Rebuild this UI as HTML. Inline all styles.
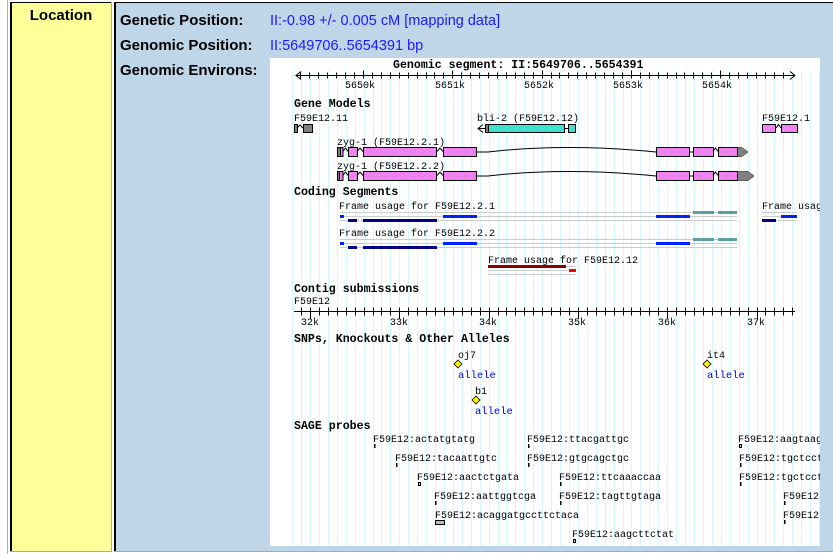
<!DOCTYPE html>
<html><head><meta charset="utf-8">
<style>
html,body{margin:0;padding:0;width:833px;height:554px;overflow:hidden;background:#fff;}
svg{position:absolute;left:0;top:0;}
.m{font-family:"Liberation Mono","DejaVu Sans Mono",monospace;font-size:10px;fill:#000;}
.h{font-family:"Liberation Mono","DejaVu Sans Mono",monospace;font-size:11.6px;font-weight:bold;fill:#000;}
.s{font-family:"Liberation Sans",Arial,sans-serif;font-size:15px;font-weight:bold;fill:#000;}
.v{font-family:"Liberation Sans",Arial,sans-serif;font-size:14.5px;fill:#1a1aff;}
.a{font-family:"Liberation Mono","DejaVu Sans Mono",monospace;font-size:10.5px;fill:#0000ee;}
</style></head><body>
<svg id="s" width="833" height="554" xmlns="http://www.w3.org/2000/svg">
<defs><clipPath id="cp"><rect x="270" y="58" width="550" height="488"/></clipPath></defs>
<rect x="0" y="0" width="833" height="554" fill="#fff"/>
<rect x="7" y="0" width="1" height="554" fill="#b0b0b0"/>
<rect x="10" y="2" width="102" height="550" fill="#ffff99"/>
<rect x="10" y="2" width="2" height="550" fill="#000"/>
<rect x="10" y="2" width="102" height="1" fill="#000"/>
<rect x="111" y="2" width="1" height="550" fill="#aaa"/>
<rect x="10" y="551" width="102" height="1" fill="#aaa"/>
<rect x="114" y="2" width="719" height="550" fill="#bfd5e8"/>
<rect x="114" y="2" width="2" height="550" fill="#000"/>
<rect x="114" y="2" width="719" height="1" fill="#000"/>
<rect x="114" y="551" width="719" height="1" fill="#aaa"/>
<text class="s" x="61" y="20" text-anchor="middle">Location</text>
<text class="s" x="120" y="25">Genetic Position:</text>
<text class="s" x="120" y="50">Genomic Position:</text>
<text class="s" x="120" y="75">Genomic Environs:</text>
<text class="v" x="270" y="25">II:-0.98 +/- 0.005 cM [mapping data]</text>
<text class="v" x="270" y="50">II:5649706..5654391 bp</text>
<rect x="270" y="58" width="550" height="488" fill="#fff"/>
<g clip-path="url(#cp)">
<g id="grid"></g>
<text class="h" x="393" y="68">Genomic segment: II:5649706..5654391</text>
<line x1="296" y1="75.5" x2="795" y2="75.5" stroke="#000"/>
<polyline points="301,71.5 296,75.5 301,79.5" fill="none" stroke="#000"/>
<polyline points="790,71.5 795,75.5 790,79.5" fill="none" stroke="#000"/>
<g id="t1"></g>
<text class="m" x="360" y="88" text-anchor="middle">5650k</text>
<text class="m" x="450" y="88" text-anchor="middle">5651k</text>
<text class="m" x="539" y="88" text-anchor="middle">5652k</text>
<text class="m" x="628" y="88" text-anchor="middle">5653k</text>
<text class="m" x="717" y="88" text-anchor="middle">5654k</text>

<text class="h" x="294" y="107">Gene Models</text>
<text class="m" x="294" y="121">F59E12.11</text>
<text class="m" x="477" y="121">bli-2 (F59E12.12)</text>
<text class="m" x="762" y="121">F59E12.1</text>
<g stroke="#000" stroke-width="1">
<rect x="294.5" y="124.5" width="3" height="8" fill="#808080"/>
<polyline points="297,128 300,125 303,128" fill="none"/>
<rect x="303.5" y="124.5" width="9" height="8" fill="#808080"/>
<polyline points="483,124.5 478,128.5 483,132.5" fill="none"/>
<line x1="478" y1="128.5" x2="485" y2="128.5"/>
<rect x="485.5" y="124.5" width="3" height="8" fill="#808080"/>
<rect x="488.5" y="124.5" width="76" height="8" fill="#40e0d0"/>
<rect x="568.5" y="124.5" width="7" height="8" fill="#40e0d0"/>
<line x1="565" y1="128.5" x2="568" y2="128.5"/>
<rect x="762.5" y="124.5" width="13" height="8" fill="#ee82ee"/>
<polyline points="776,128 778.5,124.5 781,128" fill="none"/>
<rect x="781.5" y="124.5" width="16" height="8" fill="#ee82ee"/>
</g>
<text class="m" x="337" y="145">zyg-1 (F59E12.2.1)</text>
<text class="m" x="337" y="169">zyg-1 (F59E12.2.2)</text>
<g id="zyg" stroke="#000" stroke-width="1"></g>

<text class="h" x="294" y="195">Coding Segments</text>
<g id="cds"></g>
<text class="m" x="339" y="209">Frame usage for F59E12.2.1</text>
<text class="m" x="339" y="236">Frame usage for F59E12.2.2</text>
<text class="m" x="762" y="209">Frame usage for</text>
<text class="m" x="488" y="263">Frame usage for F59E12.12</text>

<text class="h" x="294" y="292">Contig submissions</text>
<text class="m" x="294" y="304">F59E12</text>
<line x1="294" y1="311.5" x2="795" y2="311.5" stroke="#000"/>
<g id="t2"></g>
<text class="m" x="310" y="325" text-anchor="middle">32k</text>
<text class="m" x="399" y="325" text-anchor="middle">33k</text>
<text class="m" x="488" y="325" text-anchor="middle">34k</text>
<text class="m" x="577" y="325" text-anchor="middle">35k</text>
<text class="m" x="667" y="325" text-anchor="middle">36k</text>
<text class="m" x="756" y="325" text-anchor="middle">37k</text>

<text class="h" x="294" y="342">SNPs, Knockouts &amp; Other Alleles</text>
<text class="m" x="458" y="358">oj7</text>
<polygon points="458,360 462,364 458,368 454,364" fill="#ffee00" stroke="#000" stroke-width="0.8"/>
<text class="a" x="458" y="378">allele</text>
<text class="m" x="475" y="394">b1</text>
<polygon points="476,396 480,400 476,404 472,400" fill="#ffee00" stroke="#000" stroke-width="0.8"/>
<text class="a" x="475" y="414">allele</text>
<text class="m" x="707" y="358">it4</text>
<polygon points="707,360 711,364 707,368 703,364" fill="#ffee00" stroke="#000" stroke-width="0.8"/>
<text class="a" x="707" y="378">allele</text>

<text class="h" x="294" y="429">SAGE probes</text>
<g id="sage"></g>
</g>
</svg>
<script>
var NS="http://www.w3.org/2000/svg";
function el(p,t,a){var e=document.createElementNS(NS,t);for(var k in a)e.setAttribute(k,a[k]);document.getElementById(p).appendChild(e);return e;}
for(var n=-2;n<58;n++){var x=Math.round(310+n*8.93)+0.5;if(x>820)break;el("grid","line",{x1:x,y1:70,x2:x,y2:546,stroke:"#d4f7f7","stroke-width":1});}
for(var n=-7;n<48;n++){var x=363+n*8.93;if(x<298||x>792)continue;var xx=Math.round(x)+0.5;var maj=(n%10===0);el("t1","line",{x1:xx,y1:maj?70.5:72.5,x2:xx,y2:78.5,stroke:"#000"});}
for(var n=-1;n<55;n++){var x=310+n*8.93;if(x<296||x>794)continue;var xx=Math.round(x)+0.5;var maj=(n%10===0);el("t2","line",{x1:xx,y1:307.5,x2:xx,y2:maj?318.5:315.5,stroke:"#000"});}
function tr(y,arrowEnd,g1){
 var b=y+0.5,h=9,m=y+4.5;
 el("zyg","rect",{x:337.5,y:b,width:g1,height:h,fill:"#808080"});
 el("zyg","rect",{x:337.5+g1,y:b,width:5-g1+0.5,height:h,fill:"#ee82ee"});
 el("zyg","polyline",{points:"343,"+m+" 345.5,"+(y+1)+" 348,"+m,fill:"none"});
 el("zyg","rect",{x:348.5,y:b,width:9,height:h,fill:"#ee82ee"});
 el("zyg","polyline",{points:"357,"+m+" 360,"+(y+1)+" 363,"+m,fill:"none"});
 el("zyg","rect",{x:363.5,y:b,width:73,height:h,fill:"#ee82ee"});
 el("zyg","polyline",{points:"437,"+m+" 440,"+(y+1)+" 443,"+m,fill:"none"});
 el("zyg","rect",{x:443.5,y:b,width:33,height:h,fill:"#ee82ee"});
 el("zyg","path",{d:"M477,"+(m+0.5)+" L488,"+(m+0.5)+" Q566,"+(y-4)+" 656,"+(m+0.5),fill:"none"});
 el("zyg","rect",{x:656.5,y:b,width:33,height:h,fill:"#ee82ee"});
 el("zyg","line",{x1:689.5,y1:m+0.5,x2:693,y2:m+0.5});
 el("zyg","rect",{x:693.5,y:b,width:20,height:h,fill:"#ee82ee"});
 el("zyg","polyline",{points:"713,"+m+" 715.5,"+(y+1)+" 718,"+m,fill:"none"});
 el("zyg","rect",{x:718.5,y:b,width:19,height:h,fill:"#ee82ee"});
 el("zyg","polygon",{points:"737.5,"+b+" "+(arrowEnd-6)+","+b+" "+arrowEnd+","+(m+0.5)+" "+(arrowEnd-6)+","+(b+h)+" 737.5,"+(b+h),fill:"#808080","stroke-width":0.5});
}
tr(147,748,3);tr(171,754,2);
function R(x1,x2,y,h,c){el("cds","rect",{x:x1,y:y,width:x2-x1,height:h,fill:c});}
function frame(y0){
 [0,4,8].forEach(function(d){R(340,737,y0+d,1,"#cccccc");});
 R(693,714,y0-1,3,"#5f9ea0");R(718,737,y0-1,3,"#5f9ea0");
 R(340,344,y0+3,3,"#0022ff");R(443,477,y0+3,3,"#0022ff");R(656,690,y0+3,3,"#0022ff");
 R(348,357,y0+7,3,"#00008b");R(363,437,y0+7,3,"#00008b");
}
frame(212);frame(239);
[212,216,220].forEach(function(y){R(762,797,y,1,"#cccccc");});
R(781,797,215,3,"#0022ff");R(762,776,219,3,"#00008b");
[266,270,274].forEach(function(y){R(488,576,y,1,"#cccccc");});
R(488,566,265,3,"#8b0000");R(569,576,269,3,"#ff0000");
var sg=[[373,442,"F59E12:actatgtatg",0],[527,442,"F59E12:ttacgattgc",0],[738,442,"F59E12:aagtaag",1],
[395,461,"F59E12:tacaattgtc",0],[527,461,"F59E12:gtgcagctgc",0],[739,461,"F59E12:tgctcct",0],
[417,480,"F59E12:aactctgata",1],[559,480,"F59E12:ttcaaaccaa",0],[739,480,"F59E12:tgctcct",0],
[434,499,"F59E12:aattggtcga",0],[559,499,"F59E12:tagttgtaga",0],[783,499,"F59E12",0],
[435,518,"F59E12:acaggatgccttctaca",2],[783,518,"F59E12",0],
[572,537,"F59E12:aagcttctat",1]];
sg.forEach(function(s){var t=el("sage","text",{x:s[0],y:s[1],"class":"m"});t.textContent=s[2];
 if(s[3]==0)el("sage","rect",{x:s[0]+1,y:s[1]+2,width:1.5,height:4,fill:"#000"});
 else if(s[3]==1)el("sage","rect",{x:s[0]+1.5,y:s[1]+2.5,width:2,height:3,fill:"#ccc",stroke:"#000","stroke-width":1});
 else el("sage","rect",{x:s[0]+0.5,y:s[1]+2.5,width:9,height:4,fill:"#bbb",stroke:"#000","stroke-width":1});
});
</script>
</body></html>
